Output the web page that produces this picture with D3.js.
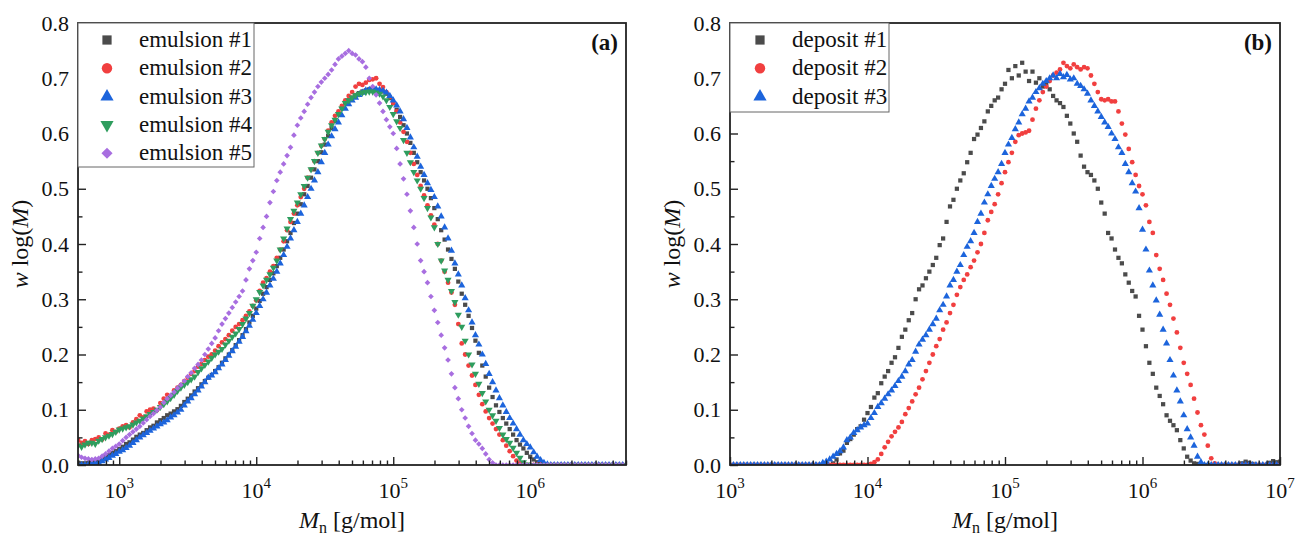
<!DOCTYPE html>
<html><head><meta charset="utf-8">
<script src="https://cdn.jsdelivr.net/npm/d3@7"></script>
<style>
body{margin:0;background:#fff}
svg text{font-family:"Liberation Serif","Times New Roman",serif;fill:#111}
</style>
</head><body>
<svg id="chart" width="1295" height="540" font-family="Liberation Serif"></svg>
<script>
// ---------------- DATA ----------------
// Panel (a): log10(Mn) grid and w log(M) values
const logM_a = [
2.700,2.725,2.750,2.775,2.800,2.825,2.850,2.875,
2.900,2.925,2.950,2.975,3.000,3.025,3.050,3.075,
3.100,3.125,3.150,3.175,3.200,3.225,3.250,3.275,
3.300,3.325,3.350,3.375,3.400,3.425,3.450,3.475,
3.500,3.525,3.550,3.575,3.600,3.625,3.650,3.675,
3.700,3.725,3.750,3.775,3.800,3.825,3.850,3.875,
3.900,3.925,3.950,3.975,4.000,4.025,4.050,4.075,
4.100,4.125,4.150,4.175,4.200,4.225,4.250,4.275,
4.300,4.325,4.350,4.375,4.400,4.425,4.450,4.475,
4.500,4.525,4.550,4.575,4.600,4.625,4.650,4.675,
4.700,4.725,4.750,4.775,4.800,4.825,4.850,4.875,
4.900,4.925,4.950,4.975,5.000,5.025,5.050,5.075,
5.100,5.125,5.150,5.175,5.200,5.225,5.250,5.275,
5.300,5.325,5.350,5.375,5.400,5.425,5.450,5.475,
5.500,5.525,5.550,5.575,5.600,5.625,5.650,5.675,
5.700,5.725,5.750,5.775,5.800,5.825,5.850,5.875,
5.900,5.925,5.950,5.975,6.000,6.025,6.050,6.075,
6.100,6.125,6.150,6.175,6.200,6.225,6.250,6.275,
6.300,6.325,6.350,6.375,6.400,6.425,6.450,6.475,
6.500,6.525,6.550,6.575,6.600,6.625,6.650,6.675,
6.700];

const emulsion1 = [
0.004,0.003,0.003,0.004,0.005,0.006,0.008,0.011,
0.016,0.018,0.022,0.025,0.029,0.033,0.038,0.041,
0.046,0.051,0.055,0.058,0.063,0.068,0.071,0.077,
0.081,0.085,0.090,0.093,0.097,0.101,0.107,0.114,
0.120,0.126,0.133,0.139,0.146,0.152,0.158,0.163,
0.170,0.177,0.185,0.193,0.200,0.208,0.217,0.226,
0.235,0.246,0.258,0.270,0.283,0.297,0.310,0.322,
0.335,0.347,0.360,0.375,0.390,0.405,0.420,0.438,
0.455,0.472,0.490,0.505,0.520,0.535,0.550,0.566,
0.580,0.596,0.610,0.623,0.635,0.646,0.655,0.660,
0.665,0.669,0.673,0.676,0.678,0.680,0.680,0.679,
0.678,0.676,0.672,0.664,0.655,0.643,0.630,0.615,
0.600,0.583,0.565,0.548,0.530,0.515,0.500,0.483,
0.465,0.445,0.425,0.408,0.390,0.373,0.355,0.332,
0.310,0.290,0.270,0.248,0.225,0.203,0.180,0.160,
0.140,0.123,0.108,0.096,0.085,0.075,0.065,0.055,
0.045,0.037,0.030,0.022,0.015,0.010,0.005,0.002,
0,0,0,0,0,0,0,0,
0,0,0,0,0,0,0,0,
0,0,0,0,0,0,0,0,
0];

const emulsion2 = [
0.045,0.040,0.043,0.038,0.045,0.047,0.050,0.046,
0.057,0.055,0.063,0.060,0.066,0.070,0.072,0.068,
0.077,0.083,0.090,0.086,0.097,0.100,0.102,0.099,
0.112,0.120,0.127,0.125,0.135,0.140,0.145,0.152,
0.158,0.165,0.170,0.178,0.183,0.190,0.196,0.200,
0.207,0.215,0.222,0.228,0.235,0.243,0.250,0.255,
0.262,0.270,0.278,0.288,0.298,0.315,0.330,0.338,
0.350,0.360,0.375,0.390,0.405,0.425,0.440,0.455,
0.470,0.485,0.500,0.520,0.535,0.550,0.565,0.578,
0.590,0.605,0.620,0.632,0.640,0.650,0.660,0.668,
0.675,0.685,0.690,0.688,0.692,0.697,0.698,0.700,
0.690,0.684,0.675,0.666,0.655,0.640,0.620,0.603,
0.585,0.565,0.545,0.525,0.505,0.488,0.470,0.452,
0.435,0.400,0.370,0.350,0.330,0.312,0.290,0.255,
0.220,0.200,0.180,0.162,0.145,0.127,0.110,0.097,
0.085,0.075,0.065,0.055,0.045,0.035,0.025,0.016,
0.008,0.003,0,0,0,0,0,0,
0,0,0,0,0,0,0,0,
0,0,0,0,0,0,0,0,
0,0,0,0,0,0,0,0,
0];

const emulsion3 = [
0.000,0.000,0.000,0.001,0.002,0.003,0.004,0.007,
0.010,0.013,0.017,0.020,0.024,0.027,0.031,0.035,
0.040,0.045,0.050,0.054,0.058,0.062,0.066,0.070,
0.074,0.077,0.081,0.086,0.090,0.095,0.100,0.108,
0.115,0.121,0.128,0.135,0.142,0.150,0.158,0.162,
0.168,0.175,0.182,0.190,0.198,0.206,0.214,0.223,
0.232,0.242,0.252,0.263,0.275,0.288,0.300,0.312,
0.325,0.337,0.350,0.365,0.380,0.395,0.410,0.425,
0.440,0.455,0.470,0.485,0.500,0.515,0.530,0.548,
0.565,0.580,0.595,0.608,0.620,0.633,0.645,0.653,
0.660,0.665,0.670,0.674,0.678,0.679,0.680,0.680,
0.679,0.677,0.674,0.668,0.660,0.651,0.640,0.626,
0.610,0.593,0.575,0.558,0.540,0.525,0.510,0.498,
0.485,0.468,0.450,0.430,0.410,0.388,0.365,0.345,
0.325,0.302,0.280,0.258,0.235,0.218,0.200,0.183,
0.165,0.150,0.135,0.121,0.108,0.096,0.085,0.075,
0.065,0.055,0.045,0.038,0.032,0.023,0.015,0.009,
0.004,0.001,0,0,0,0,0,0,
0,0,0,0,0,0,0,0,
0,0,0,0,0,0,0,0,
0];

const emulsion4 = [
0.035,0.033,0.037,0.040,0.040,0.038,0.044,0.047,
0.050,0.053,0.056,0.060,0.064,0.066,0.068,0.070,
0.073,0.077,0.080,0.084,0.088,0.092,0.096,0.100,
0.105,0.110,0.115,0.121,0.127,0.134,0.140,0.145,
0.150,0.155,0.160,0.168,0.175,0.181,0.187,0.194,
0.200,0.205,0.210,0.218,0.225,0.232,0.238,0.246,
0.255,0.265,0.275,0.288,0.300,0.313,0.325,0.335,
0.345,0.357,0.370,0.390,0.410,0.428,0.445,0.460,
0.475,0.490,0.505,0.520,0.535,0.550,0.565,0.578,
0.590,0.603,0.615,0.625,0.635,0.645,0.655,0.660,
0.665,0.669,0.672,0.674,0.675,0.676,0.676,0.674,
0.672,0.667,0.660,0.648,0.635,0.622,0.610,0.588,
0.565,0.548,0.530,0.515,0.500,0.483,0.465,0.448,
0.430,0.400,0.370,0.352,0.335,0.315,0.295,0.272,
0.250,0.225,0.200,0.182,0.165,0.147,0.130,0.115,
0.100,0.090,0.080,0.067,0.055,0.047,0.040,0.031,
0.022,0.013,0.005,0.001,0,0,0,0,
0,0,0,0,0,0,0,0,
0,0,0,0,0,0,0,0,
0,0,0,0,0,0,0,0,
0];

const emulsion5 = [
0.017,0.014,0.012,0.011,0.010,0.011,0.012,0.016,
0.020,0.025,0.030,0.034,0.038,0.044,0.050,0.055,
0.060,0.065,0.070,0.076,0.082,0.088,0.093,0.099,
0.105,0.113,0.120,0.126,0.132,0.139,0.145,0.152,
0.160,0.167,0.175,0.182,0.190,0.200,0.210,0.220,
0.230,0.243,0.255,0.265,0.275,0.285,0.295,0.305,
0.315,0.335,0.355,0.370,0.385,0.410,0.430,0.450,
0.475,0.495,0.515,0.530,0.545,0.560,0.575,0.597,
0.615,0.628,0.640,0.653,0.665,0.675,0.685,0.693,
0.700,0.707,0.715,0.725,0.735,0.740,0.745,0.750,
0.745,0.742,0.735,0.730,0.720,0.700,0.685,0.670,
0.655,0.640,0.625,0.612,0.600,0.573,0.545,0.518,
0.490,0.460,0.430,0.400,0.370,0.350,0.330,0.305,
0.280,0.258,0.235,0.212,0.190,0.165,0.140,0.120,
0.100,0.085,0.070,0.057,0.045,0.038,0.030,0.020,
0.010,0.004,0,0,0,0,0,0,
0,0,0,0,0,0,0,0,
0,0,0,0,0,0,0,0,
0,0,0,0,0,0,0,0,
0,0,0,0,0,0,0,0,
0];

// Panel (b)
const logM_b = [
3.000,3.025,3.050,3.075,3.100,3.125,3.150,3.175,
3.200,3.225,3.250,3.275,3.300,3.325,3.350,3.375,
3.400,3.425,3.450,3.475,3.500,3.525,3.550,3.575,
3.600,3.625,3.650,3.675,3.700,3.725,3.750,3.775,
3.800,3.825,3.850,3.875,3.900,3.925,3.950,3.975,
4.000,4.025,4.050,4.075,4.100,4.125,4.150,4.175,
4.200,4.225,4.250,4.275,4.300,4.325,4.350,4.375,
4.400,4.425,4.450,4.475,4.500,4.525,4.550,4.575,
4.600,4.625,4.650,4.675,4.700,4.725,4.750,4.775,
4.800,4.825,4.850,4.875,4.900,4.925,4.950,4.975,
5.000,5.025,5.050,5.075,5.100,5.125,5.150,5.175,
5.200,5.225,5.250,5.275,5.300,5.325,5.350,5.375,
5.400,5.425,5.450,5.475,5.500,5.525,5.550,5.575,
5.600,5.625,5.650,5.675,5.700,5.725,5.750,5.775,
5.800,5.825,5.850,5.875,5.900,5.925,5.950,5.975,
6.000,6.025,6.050,6.075,6.100,6.125,6.150,6.175,
6.200,6.225,6.250,6.275,6.300,6.325,6.350,6.375,
6.400,6.425,6.450,6.475,6.500,6.525,6.550,6.575,
6.600,6.625,6.650,6.675,6.700,6.725,6.750,6.775,
6.800,6.825,6.850,6.875,6.900,6.925,6.950,6.975,
7.000];

const deposit1 = [
0,0,0,0,0,0,0,0,
0,0,0,0,0,0,0,0,
0,0,0,0,0,0,0,0,
0,0,0,0,0,0,0.003,0.010,
0.021,0.026,0.040,0.047,0.055,0.065,0.070,0.082,
0.094,0.105,0.122,0.130,0.148,0.160,0.170,0.185,
0.195,0.212,0.232,0.245,0.262,0.275,0.300,0.318,
0.325,0.338,0.350,0.362,0.375,0.398,0.410,0.440,
0.468,0.480,0.500,0.515,0.528,0.548,0.565,0.590,
0.598,0.610,0.622,0.640,0.650,0.660,0.665,0.680,
0.690,0.715,0.700,0.722,0.705,0.728,0.712,0.695,
0.712,0.692,0.700,0.685,0.688,0.680,0.668,0.660,
0.655,0.648,0.632,0.618,0.600,0.585,0.560,0.540,
0.530,0.525,0.515,0.500,0.475,0.455,0.420,0.410,
0.390,0.375,0.365,0.345,0.330,0.315,0.305,0.270,
0.245,0.215,0.185,0.165,0.140,0.125,0.110,0.090,
0.080,0.072,0.063,0.045,0.030,0.015,0.008,0.003,
0.002,0,0,0,0,0,0,0,
0,0,0,0,0,0.003,0.006,0.004,
0.002,0,0,0,0,0.004,0.007,0.005,
0.006];

const deposit2 = [
0,0,0,0,0,0,0,0,
0,0,0,0,0,0,0,0,
0,0,0,0,0,0,0,0,
0,0,0,0,0,0,0,0,
0,0,0,0,0,0,0,0,
0,0.002,0.005,0.010,0.020,0.032,0.042,0.052,
0.060,0.068,0.078,0.092,0.103,0.115,0.128,0.140,
0.155,0.170,0.185,0.200,0.215,0.228,0.245,0.258,
0.275,0.290,0.308,0.322,0.335,0.345,0.358,0.370,
0.385,0.400,0.420,0.443,0.458,0.472,0.490,0.510,
0.530,0.548,0.565,0.585,0.597,0.600,0.602,0.605,
0.625,0.645,0.660,0.675,0.685,0.695,0.705,0.710,
0.716,0.728,0.722,0.718,0.725,0.720,0.716,0.720,
0.718,0.705,0.690,0.675,0.662,0.660,0.662,0.658,
0.658,0.640,0.618,0.598,0.572,0.548,0.525,0.505,
0.490,0.470,0.440,0.420,0.380,0.355,0.335,0.310,
0.290,0.265,0.240,0.212,0.185,0.165,0.145,0.120,
0.095,0.072,0.055,0.035,0.012,0.003,0,0,
0,0,0,0,0,0,0,0,
0,0,0,0,0,0,0,0,
0];

const deposit3 = [
0,0,0,0,0,0,0,0,
0,0,0,0,0,0,0,0,
0,0,0,0,0,0,0,0,
0,0,0,0.004,0.006,0.010,0.015,0.020,
0.025,0.032,0.045,0.050,0.058,0.063,0.068,0.072,
0.075,0.085,0.094,0.105,0.112,0.120,0.128,0.135,
0.143,0.152,0.160,0.170,0.182,0.190,0.205,0.218,
0.227,0.235,0.245,0.255,0.265,0.280,0.290,0.305,
0.325,0.335,0.350,0.362,0.380,0.395,0.405,0.420,
0.440,0.455,0.475,0.490,0.505,0.518,0.530,0.545,
0.565,0.580,0.592,0.608,0.620,0.635,0.645,0.658,
0.665,0.675,0.682,0.690,0.695,0.700,0.705,0.700,
0.708,0.702,0.706,0.698,0.700,0.690,0.686,0.680,
0.672,0.660,0.650,0.640,0.630,0.620,0.612,0.600,
0.590,0.575,0.565,0.545,0.530,0.510,0.495,0.465,
0.426,0.390,0.352,0.325,0.298,0.272,0.245,0.220,
0.190,0.162,0.135,0.115,0.090,0.065,0.050,0.035,
0.015,0.005,0,0,0,0,0,0,
0,0,0,0,0,0,0,0,
0,0,0,0,0,0,0,0,
0];

const names_a = ["emulsion #1","emulsion #2","emulsion #3","emulsion #4","emulsion #5"];
const names_b = ["deposit #1","deposit #2","deposit #3"];
const xTickExp_a = [3,4,5,6];
const xTickExp_b = [3,4,5,6,7];
const yTickVals = [0,0.1,0.2,0.3,0.4,0.5,0.6,0.7,0.8];
const xDomain_a = [500, 5e6];
const xDomain_b = [1e3, 1e7];

// ---------------- STYLE ----------------
const COLORS = {gray:"#4b4b4b", red:"#f13f3f", blue:"#1c64dc", green:"#2f9d5e", purple:"#a86ee0"};
const svg = d3.select("#chart");

function symPath(shape, size){
  const t = shape==="circle"?d3.symbolCircle:(shape==="triangle"||shape==="triangleDown")?d3.symbolTriangle:d3.symbolSquare;
  return d3.symbol().type(t).size(size)();
}
function symRot(shape){ return shape==="triangleDown"?180:(shape==="diamond"?45:0); }

function drawPanel(cfg){
  const {left,right,top,bottom,domain,logM,series,tickExp,legend,tag,clipId} = cfg;
  const x = d3.scaleLog().domain(domain).range([left,right]);
  const y = d3.scaleLinear().domain([0,0.8]).range([bottom,top]);
  const g = svg.append("g");

  svg.append("clipPath").attr("id",clipId).append("rect")
    .attr("x",left).attr("y",top).attr("width",right-left).attr("height",bottom-top);

  const dg = g.append("g").attr("clip-path",`url(#${clipId})`);
  series.forEach(s=>{
    const pts = logM.map((lm,i)=>({m:Math.pow(10,lm), w:s.values[i]}));
    const p = symPath(s.shape, s.dataSize);
    dg.append("g").selectAll("path").data(pts).join("path")
      .attr("d",p).attr("fill",s.color)
      .attr("transform",d=>`translate(${x(d.m)},${y(d.w)}) rotate(${symRot(s.shape)})`);
  });

  const lo = Math.floor(Math.log10(domain[0])), hi = Math.ceil(Math.log10(domain[1]));
  const minors=[], majors=[];
  for(let e=lo;e<=hi;e++){
    for(let k=1;k<10;k++){
      const v=k*Math.pow(10,e);
      if(v<domain[0]*0.999||v>domain[1]*1.001) continue;
      if(k===1) majors.push(v); else minors.push(v);
    }
  }
  const axStyle = sel=>{ sel.select(".domain").remove(); sel.selectAll("line").attr("stroke","#222").attr("stroke-width",1.4); };
  g.append("g").attr("transform",`translate(0,${bottom})`)
    .call(d3.axisBottom(x).tickValues(minors).tickSize(-4.5).tickFormat(""))
    .call(axStyle);
  g.append("g").attr("transform",`translate(0,${bottom})`)
    .call(d3.axisBottom(x).tickValues(majors).tickSize(-8).tickFormat(""))
    .call(axStyle);
  tickExp.forEach(e=>{
    const t = g.append("text").attr("x",x(Math.pow(10,e))).attr("y",bottom+33)
      .attr("text-anchor","middle").attr("font-size",22);
    t.append("tspan").text("10");
    t.append("tspan").attr("dy",-10).attr("font-size",15).text(e);
  });

  const yMinor = d3.range(0.05,0.8,0.1);
  g.append("g").attr("transform",`translate(${left},0)`)
    .call(d3.axisLeft(y).tickValues(yMinor).tickSize(-4.5).tickFormat(""))
    .call(axStyle);
  const ya = g.append("g").attr("transform",`translate(${left},0)`)
    .call(d3.axisLeft(y).tickValues(yTickVals).tickSize(-8).tickPadding(9).tickFormat(d3.format(".1f")))
    .call(axStyle);
  ya.selectAll("text").attr("font-size",22).attr("fill","#111")
    .attr("font-family",'"Liberation Serif","Times New Roman",serif');

  g.append("rect").attr("x",left).attr("y",top).attr("width",right-left).attr("height",bottom-top)
    .attr("fill","none").attr("stroke","#222").attr("stroke-width",1.8);

  const yt = g.append("text").attr("transform",`translate(${left-50},${(top+bottom)/2}) rotate(-90)`)
    .attr("text-anchor","middle").attr("font-size",24);
  yt.append("tspan").attr("font-style","italic").text("w");
  yt.append("tspan").text(" log(");
  yt.append("tspan").attr("font-style","italic").text("M");
  yt.append("tspan").text(")");

  const xt = g.append("text").attr("x",(left+right)/2).attr("y",bottom+63)
    .attr("text-anchor","middle").attr("font-size",24);
  xt.append("tspan").attr("font-style","italic").text("M");
  xt.append("tspan").attr("font-size",16).attr("dy",5).text("n");
  xt.append("tspan").attr("dy",-5).text(" [g/mol]");

  g.append("text").attr("x",right-8).attr("y",top+27).attr("text-anchor","end")
    .attr("font-size",23).attr("font-weight","bold").text(tag);

  const lg = g.append("g");
  lg.append("rect").attr("x",left).attr("y",top).attr("width",legend.w).attr("height",legend.h)
    .attr("fill","#fff").attr("stroke","#666").attr("stroke-width",1);
  series.forEach((s,i)=>{
    const cy = top + 17 + i*28.3;
    lg.append("path").attr("d",symPath(s.shape,s.legSize)).attr("fill",s.color)
      .attr("transform",`translate(${left+legend.mx},${cy}) rotate(${symRot(s.shape)})`);
    lg.append("text").attr("x",left+legend.tx).attr("y",cy+7).attr("font-size",23).text(s.name);
  });
}

drawPanel({
  left:78,right:626,top:23,bottom:465,domain:xDomain_a,logM:logM_a,tickExp:xTickExp_a,
  tag:"(a)",clipId:"clipA",legend:{w:176,h:144,mx:29,tx:61},
  series:[
    {name:names_a[0],values:emulsion1,color:COLORS.gray,shape:"square",dataSize:18,legSize:85},
    {name:names_a[1],values:emulsion2,color:COLORS.red,shape:"circle",dataSize:18,legSize:85},
    {name:names_a[2],values:emulsion3,color:COLORS.blue,shape:"triangle",dataSize:22,legSize:75},
    {name:names_a[3],values:emulsion4,color:COLORS.green,shape:"triangleDown",dataSize:22,legSize:75},
    {name:names_a[4],values:emulsion5,color:COLORS.purple,shape:"diamond",dataSize:16,legSize:62}
  ]
});
drawPanel({
  left:730,right:1280,top:23,bottom:465,domain:xDomain_b,logM:logM_b,tickExp:xTickExp_b,
  tag:"(b)",clipId:"clipB",legend:{w:159,h:89,mx:30,tx:62},
  series:[
    {name:names_b[0],values:deposit1,color:COLORS.gray,shape:"square",dataSize:18,legSize:85},
    {name:names_b[1],values:deposit2,color:COLORS.red,shape:"circle",dataSize:18,legSize:85},
    {name:names_b[2],values:deposit3,color:COLORS.blue,shape:"triangle",dataSize:22,legSize:75}
  ]
});
</script>
</body></html>
